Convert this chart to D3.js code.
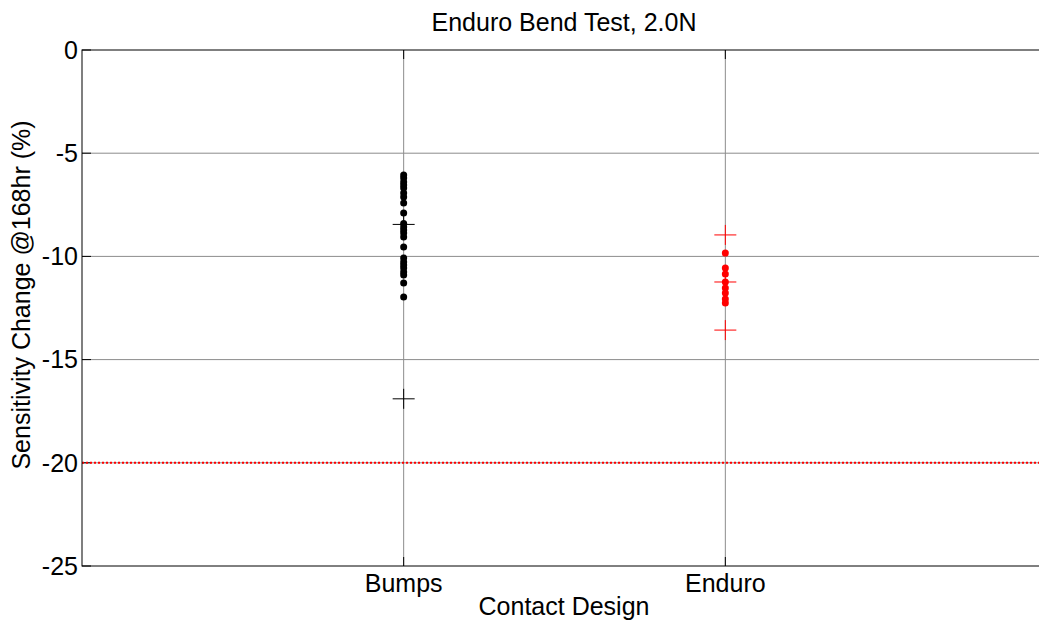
<!DOCTYPE html>
<html>
<head>
<meta charset="utf-8">
<title>Enduro Bend Test</title>
<style>
  body { margin: 0; background: #fff; }
  svg { display: block; font-family: "Liberation Sans", Arial, sans-serif; }
</style>
</head>
<body>
<script src="https://d3js.org/d3.v7.min.js"></script>
<script>
// Data
var categories = ["Bumps", "Enduro"];
var bumpsValues = [-6.06, -6.2, -6.4, -6.54, -6.69, -6.93, -7.12, -7.41, -7.9, -8.4, -8.58,
  -8.72, -8.87, -9.06, -9.54, -10.08, -10.27, -10.42, -10.56, -10.76, -10.9, -11.29, -11.97];
var enduroValues = [-9.84, -10.56, -10.85, -11.24, -11.53, -11.77, -12.06, -12.26];
// mean and mean - 3 sigma / +/- 3 sigma markers
var bumpsMarkers = [-8.45, -16.9];
var enduroMarkers = [-8.96, -11.24, -13.57];
var yTicks = [0, -5, -10, -15, -20, -25];
var limitValue = -20;

var width = 1039, height = 621;
var margin = {left: 82, top: 50, right: -8, bottom: 55};

var svg = d3.select("body").append("svg")
  .attr("width", width)
  .attr("height", height);

var x = d3.scaleLinear().domain([0, 3]).range([margin.left, width - margin.right]);
var y = d3.scaleLinear().domain([-25, 0]).range([height - margin.bottom, margin.top]);

// grid
svg.append("g").selectAll("line")
  .data(yTicks.filter(function(d){ return d !== 0 && d !== -25; }))
  .enter().append("line")
  .attr("x1", x(0)).attr("x2", x(3))
  .attr("y1", function(d){ return y(d); }).attr("y2", function(d){ return y(d); })
  .attr("stroke", "#8c8c8c").attr("stroke-width", 1);

svg.append("g").selectAll("line")
  .data([1, 2])
  .enter().append("line")
  .attr("x1", function(d){ return x(d); }).attr("x2", function(d){ return x(d); })
  .attr("y1", y(0)).attr("y2", y(-25))
  .attr("stroke", "#8c8c8c").attr("stroke-width", 1);

// inner tick marks
var ticks = svg.append("g").attr("stroke", "#000").attr("stroke-width", 1);
yTicks.forEach(function(d) {
  ticks.append("line").attr("x1", x(0)).attr("x2", x(0) + 9)
    .attr("y1", y(d)).attr("y2", y(d));
});
[1, 2].forEach(function(d) {
  ticks.append("line").attr("x1", x(d)).attr("x2", x(d))
    .attr("y1", y(0)).attr("y2", y(0) + 9);
  ticks.append("line").attr("x1", x(d)).attr("x2", x(d))
    .attr("y1", y(-25)).attr("y2", y(-25) - 9);
});

// limit line
svg.append("line")
  .attr("x1", x(0)).attr("x2", x(3))
  .attr("y1", y(limitValue)).attr("y2", y(limitValue))
  .attr("stroke", "red").attr("stroke-width", 2)
  .attr("stroke-dasharray", "2,2");

// markers (crosses)
function crosses(values, xi, color) {
  var g = svg.append("g").attr("stroke", color).attr("stroke-width", 1);
  values.forEach(function(v) {
    g.append("line").attr("x1", x(xi) - 11).attr("x2", x(xi) + 11)
      .attr("y1", y(v)).attr("y2", y(v));
    g.append("line").attr("x1", x(xi)).attr("x2", x(xi))
      .attr("y1", y(v) - 10).attr("y2", y(v) + 10);
  });
}
crosses(bumpsMarkers, 1, "#000");
crosses(enduroMarkers, 2, "red");

// points
svg.append("g").selectAll("circle")
  .data(bumpsValues)
  .enter().append("circle")
  .attr("cx", x(1)).attr("cy", function(d){ return y(d); })
  .attr("r", 3.5).attr("fill", "#000");

svg.append("g").selectAll("circle")
  .data(enduroValues)
  .enter().append("circle")
  .attr("cx", x(2)).attr("cy", function(d){ return y(d); })
  .attr("r", 3.5).attr("fill", "red");

// axes box
svg.append("rect")
  .attr("x", x(0)).attr("y", y(0))
  .attr("width", x(3) - x(0)).attr("height", y(-25) - y(0))
  .attr("fill", "none").attr("stroke", "#000").attr("stroke-width", 1);

// y tick labels
svg.append("g").selectAll("text")
  .data(yTicks)
  .enter().append("text")
  .attr("x", x(0) - 4).attr("y", function(d){ return y(d); })
  .attr("dy", "0.35em")
  .attr("text-anchor", "end")
  .attr("font-size", "25px")
  .text(function(d){ return d; });

// x tick labels
svg.append("g").selectAll("text")
  .data(categories)
  .enter().append("text")
  .attr("x", function(d, i){ return x(i + 1); })
  .attr("y", 592)
  .attr("text-anchor", "middle")
  .attr("font-size", "25px")
  .text(function(d){ return d; });

svg.append("text")
  .attr("x", 564).attr("y", 615)
  .attr("text-anchor", "middle")
  .attr("font-size", "25px")
  .text("Contact Design");

svg.append("text")
  .attr("transform", "translate(30,295) rotate(-90)")
  .attr("text-anchor", "middle")
  .attr("font-size", "25px")
  .text("Sensitivity Change @168hr (%)");

svg.append("text")
  .attr("x", 564).attr("y", 31)
  .attr("text-anchor", "middle")
  .attr("font-size", "25px")
  .text("Enduro Bend Test, 2.0N");
</script>
</body>
</html>
